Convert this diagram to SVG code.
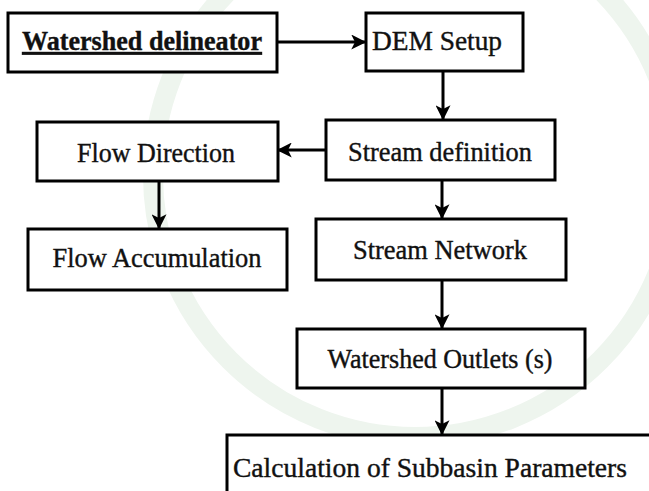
<svg xmlns="http://www.w3.org/2000/svg" width="649" height="491" viewBox="0 0 649 491">
<defs>
<style>
.box{fill:#fff;stroke:#000;stroke-width:3}
.lbl{font-family:"Liberation Serif","Times New Roman",serif;font-size:28px;fill:#111;stroke:#111;stroke-width:0.4;text-anchor:middle}
.conn{stroke:#000;stroke-width:3;fill:none;marker-end:url(#ah)}
</style>
<marker id="ah" viewBox="0 0 12 12" refX="11" refY="6" markerWidth="5" markerHeight="5" orient="auto" markerUnits="strokeWidth">
<path d="M0,0 L12,6 L0,12 L3,6 Z" fill="#000"/>
</marker>
</defs>
<rect width="649" height="491" fill="#fff"/>
<g id="watermark" fill="none" stroke="#eef5ee">
<circle cx="415" cy="175" r="262" stroke-width="20"/>
</g>
<g id="connectors">
<line class="conn" x1="277" y1="42" x2="365" y2="42"/>
<line class="conn" x1="443" y1="71" x2="443" y2="119"/>
<line class="conn" x1="326" y1="150" x2="278" y2="150"/>
<line class="conn" x1="159" y1="181" x2="159" y2="228"/>
<line class="conn" x1="442" y1="180" x2="442" y2="218"/>
<line class="conn" x1="442" y1="280" x2="442" y2="328"/>
<line class="conn" x1="442" y1="388" x2="442" y2="434"/>
</g>
<g id="n-watershed">
<rect class="box" x="8" y="13" width="269" height="59"/>
<text class="lbl" x="142" y="50" font-weight="bold" text-decoration="underline" textLength="240" lengthAdjust="spacingAndGlyphs">Watershed delineator</text>
</g>
<g id="n-dem">
<rect class="box" x="366" y="13" width="157" height="58"/>
<text class="lbl" x="437" y="50" textLength="130" lengthAdjust="spacingAndGlyphs">DEM Setup</text>
</g>
<g id="n-streamdef">
<rect class="box" x="326" y="120" width="229" height="60"/>
<text class="lbl" x="440" y="161" textLength="184" lengthAdjust="spacingAndGlyphs">Stream definition</text>
</g>
<g id="n-flowdir">
<rect class="box" x="37" y="122" width="241" height="59"/>
<text class="lbl" x="156" y="162" textLength="158" lengthAdjust="spacingAndGlyphs">Flow Direction</text>
</g>
<g id="n-flowacc">
<rect class="box" x="28" y="229" width="259" height="61"/>
<text class="lbl" x="157" y="267" textLength="209" lengthAdjust="spacingAndGlyphs">Flow Accumulation</text>
</g>
<g id="n-streamnet">
<rect class="box" x="316" y="219" width="250" height="61"/>
<text class="lbl" x="440" y="259" textLength="174" lengthAdjust="spacingAndGlyphs">Stream Network</text>
</g>
<g id="n-outlets">
<rect class="box" x="297" y="329" width="288" height="59"/>
<text class="lbl" x="440" y="368" textLength="225" lengthAdjust="spacingAndGlyphs">Watershed Outlets (s)</text>
</g>
<g id="n-calc">
<rect class="box" x="227" y="435" width="500" height="100"/>
<text class="lbl" x="430" y="477" textLength="394" lengthAdjust="spacingAndGlyphs">Calculation of Subbasin Parameters</text>
</g>
</svg>
